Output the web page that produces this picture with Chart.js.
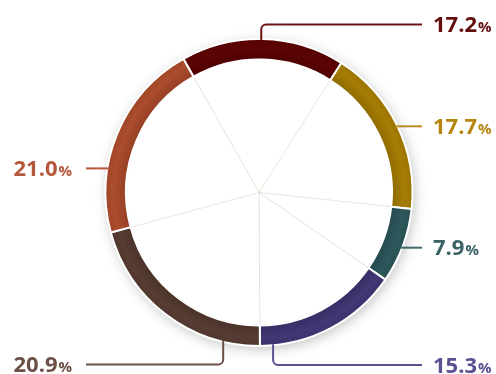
<!DOCTYPE html>
<html>
<head>
<meta charset="utf-8">
<script src="https://cdn.jsdelivr.net/npm/chart.js@4.4.0/dist/chart.umd.min.js"></script>
<style>
  html, body { margin: 0; padding: 0; background: #fff; }
  #wrap { width: 496px; height: 374px; position: relative; }
</style>
</head>
<body>
<div id="wrap"><canvas id="pie"></canvas></div>
<script>
/* share of each slice, clockwise from the top */
const shares = [17.2, 17.7, 7.9, 15.3, 20.9, 21.0];
const segmentColors = ['#5a0000', '#a37a00', '#2a5459', '#3e3472', '#54392f', '#a9492a'];
const labelColors = ['#640d0d', '#b5850f', '#3a6266', '#5b5192', '#6a5047', '#b5573a'];
const lineColors = ['#6b1414', '#bb8c24', '#3d676b', '#5b5192', '#6a5047', '#b5573a'];

/* label placement: 'at' = fraction along the arc for the leader start,
   side = which way the leader runs, ty = label row when the leader bends */
const labelLayout = [
  { at: 0.49, side: 'right', ty: 24.5 },
  { at: 0.50, side: 'right' },
  { at: 0.53, side: 'right' },
  { at: 0.91, side: 'right', ty: 365 },
  { at: 0.185, side: 'left', ty: 364.5 },
  { at: 0.32, side: 'left' }
];

function hexToRgb(hex) {
  const n = parseInt(hex.slice(1), 16);
  return [(n >> 16) & 255, (n >> 8) & 255, n & 255];
}
function shade(hex, amt) {
  const c = hexToRgb(hex).map(v => {
    const t = amt < 0 ? 0 : 255;
    return Math.round(v + (t - v) * Math.abs(amt));
  });
  return `rgb(${c[0]},${c[1]},${c[2]})`;
}
function tint(hex, alpha) {
  const c = hexToRgb(hex);
  return `rgba(${c[0]},${c[1]},${c[2]},${alpha})`;
}

/* gentle radial shading across the ring band */
function ringFill(ctx) {
  const base = segmentColors[ctx.dataIndex];
  const chart = ctx.chart;
  const ctrl = chart.getDatasetMeta(0).controller;
  const area = chart.chartArea;
  if (!area || !ctrl.outerRadius) return base;
  const cx = (area.left + area.right) / 2;
  const cy = (area.top + area.bottom) / 2;
  const g = chart.ctx.createRadialGradient(cx, cy, ctrl.innerRadius, cx, cy, ctrl.outerRadius);
  g.addColorStop(0, shade(base, -0.12));
  g.addColorStop(0.6, shade(base, 0.02));
  g.addColorStop(1, shade(base, -0.05));
  return g;
}

/* soft drop shadow under the ring band */
const ringShadow = {
  id: 'ringShadow',
  beforeDatasetsDraw(chart) {
    const meta = chart.getDatasetMeta(0);
    const arc = meta.data[0];
    if (!arc) return;
    const { x, y, outerRadius, innerRadius } = arc.getProps(['x', 'y', 'outerRadius', 'innerRadius'], true);
    const ctx = chart.ctx;
    ctx.save();
    ctx.shadowColor = 'rgba(0,0,0,0.28)';
    ctx.shadowBlur = 14;
    ctx.shadowOffsetX = 2;
    ctx.shadowOffsetY = 3;
    ctx.fillStyle = '#fff';
    ctx.beginPath();
    ctx.arc(x, y, outerRadius - 1, 0, Math.PI * 2);
    ctx.arc(x, y, innerRadius + 1, 0, Math.PI * 2, true);
    ctx.fill();
    ctx.restore();
  }
};

/* leader lines and percentage labels */
const sliceLabels = {
  id: 'sliceLabels',
  afterDatasetsDraw(chart) {
    const ctx = chart.ctx;
    const meta = chart.getDatasetMeta(0);
    meta.data.forEach((arc, i) => {
      const p = arc.getProps(['x', 'y', 'startAngle', 'endAngle', 'outerRadius'], true);
      const L = labelLayout[i];
      const a = p.startAngle + (p.endAngle - p.startAngle) * L.at;
      const ax = p.x + Math.cos(a) * (p.outerRadius - 1);
      const ay = p.y + Math.sin(a) * (p.outerRadius - 1);
      const dir = L.side === 'right' ? 1 : -1;
      const endX = L.side === 'right' ? 422 : 86;
      const ty = L.ty !== undefined ? L.ty : ay;

      ctx.save();
      ctx.strokeStyle = lineColors[i];
      ctx.lineWidth = 2;
      ctx.lineJoin = 'round';
      ctx.beginPath();
      ctx.moveTo(ax, ay);
      if (L.ty !== undefined) {
        const r = 5;
        const vdir = ty < ay ? -1 : 1;
        ctx.lineTo(ax, ty - vdir * r);
        ctx.arcTo(ax, ty, ax + dir * r, ty, r);
      }
      ctx.lineTo(endX, ty);
      ctx.stroke();

      const num = shares[i].toFixed(1);
      const baseY = ty + 7.5;
      ctx.fillStyle = labelColors[i];
      ctx.textBaseline = 'alphabetic';
      const numFont = '700 22px "Open Sans", "Noto Sans", sans-serif';
      const pctFont = '700 15px "Open Sans", "Noto Sans", sans-serif';
      ctx.font = numFont;
      const wNum = ctx.measureText(num).width;
      ctx.font = pctFont;
      const wPct = ctx.measureText('%').width;
      const startX = L.side === 'right' ? 433 : 72 - (wNum + 1 + wPct);
      ctx.textAlign = 'left';
      ctx.font = numFont;
      ctx.fillText(num, startX, baseY);
      ctx.font = pctFont;
      ctx.fillText('%', startX + wNum + 1, baseY);
      ctx.restore();
    });
  }
};

new Chart(document.getElementById('pie'), {
  type: 'doughnut',
  data: {
    labels: shares.map(v => v + '%'),
    datasets: [
      {
        data: shares,
        weight: 20.5,
        backgroundColor: ringFill,
        borderColor: '#ffffff',
        borderWidth: 2
      },
      {
        data: shares,
        weight: 133,
        backgroundColor: '#ffffff',
        borderColor: segmentColors.map(c => tint(c, 0.1)),
        borderWidth: 1
      }
    ]
  },
  options: {
    responsive: true,
    maintainAspectRatio: false,
    animation: false,
    events: [],
    cutout: 0,
    rotation: -29.5,
    layout: { padding: { left: 104.5, right: 82.5, top: 38, bottom: 27 } },
    plugins: {
      legend: { display: false },
      tooltip: { enabled: false }
    }
  },
  plugins: [ringShadow, sliceLabels]
});
</script>
</body>
</html>
